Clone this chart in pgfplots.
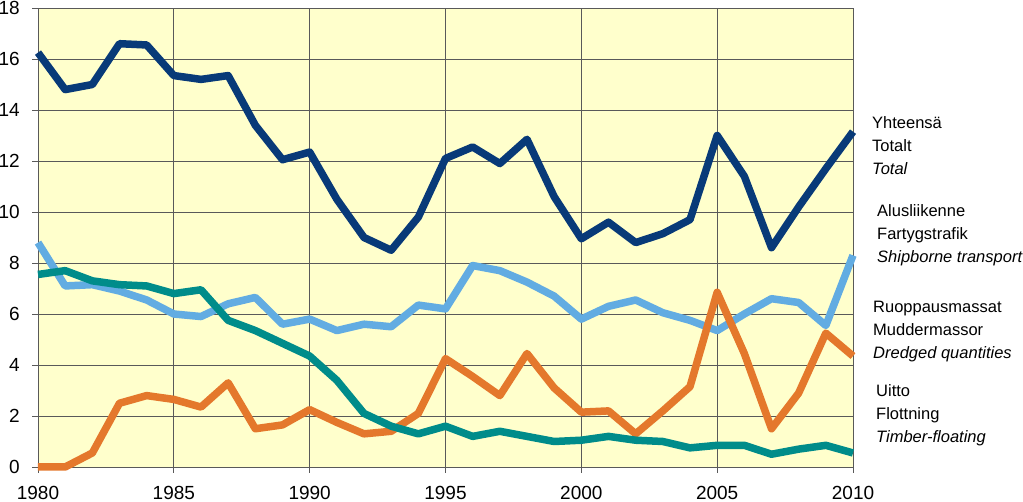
\documentclass[border=0pt]{standalone}
\usepackage{fontspec}
\setmainfont{Liberation Sans}
\usepackage{pgfplots}
\pgfplotsset{compat=1.18}

\definecolor{totalblue}{RGB}{8,58,120}
\definecolor{shipblue}{RGB}{98,172,226}
\definecolor{dredgeorange}{RGB}{228,120,44}
\definecolor{timberteal}{RGB}{0,140,138}
\definecolor{plotbg}{RGB}{255,255,204}

\begin{document}
\begin{tikzpicture}
  \useasboundingbox (-38pt,-35pt) rectangle (985pt,467pt);
  \begin{axis}[
    at={(0pt,0pt)}, anchor=south west,
    scale only axis,
    width=815pt, height=459pt,
    xmin=1980, xmax=2010, ymin=0, ymax=18,
    xtick={1980,1985,...,2010},
    ytick={0,2,...,18},
    grid=major,
    grid style={black!65, line width=0.8pt},
    axis line style={black!65, line width=0.8pt},
    tick style={black!65, line width=0.8pt},
    major tick length=6pt,
    tick align=outside,
    xtick pos=bottom, ytick pos=left,
    axis background/.style={fill=plotbg},
    /pgf/number format/assume math mode=true,
    /pgf/number format/1000 sep={},
    ticklabel style={font=\fontsize{19}{19}\selectfont, inner sep=0pt},
    xticklabel style={anchor=north, yshift=-13pt},
    yticklabel style={anchor=east, xshift=-12pt},
    every axis plot/.append style={line width=7.5pt, line join=round, no markers},
    clip=false,
  ]
  % Yhteensä / Total
  \addplot[totalblue] coordinates {
    (1980,16.25) (1981,14.8) (1982,15.0) (1983,16.6) (1984,16.55)
    (1985,15.35) (1986,15.2) (1987,15.35) (1988,13.4) (1989,12.05)
    (1990,12.35) (1991,10.5) (1992,9.0) (1993,8.5) (1994,9.8)
    (1995,12.1) (1996,12.55) (1997,11.9) (1998,12.85) (1999,10.6)
    (2000,8.95) (2001,9.6) (2002,8.8) (2003,9.15) (2004,9.7)
    (2005,13.0) (2006,11.4) (2007,8.6) (2008,10.2) (2009,11.7)
    (2010,13.15)};
  % Alusliikenne / Shipborne transport
  \addplot[shipblue] coordinates {
    (1980,8.8) (1981,7.1) (1982,7.15) (1983,6.9) (1984,6.55)
    (1985,6.0) (1986,5.9) (1987,6.4) (1988,6.65) (1989,5.6)
    (1990,5.8) (1991,5.35) (1992,5.6) (1993,5.5) (1994,6.35)
    (1995,6.2) (1996,7.9) (1997,7.7) (1998,7.25) (1999,6.7)
    (2000,5.8) (2001,6.3) (2002,6.55) (2003,6.05) (2004,5.75)
    (2005,5.35) (2006,6.0) (2007,6.6) (2008,6.45) (2009,5.55)
    (2010,8.3)};
  % Ruoppausmassat / Dredged quantities
  \addplot[dredgeorange] coordinates {
    (1980,0) (1981,0) (1982,0.55) (1983,2.5) (1984,2.8)
    (1985,2.65) (1986,2.35) (1987,3.3) (1988,1.5) (1989,1.65)
    (1990,2.25) (1991,1.75) (1992,1.3) (1993,1.4) (1994,2.1)
    (1995,4.25) (1996,3.55) (1997,2.8) (1998,4.45) (1999,3.1)
    (2000,2.15) (2001,2.2) (2002,1.3) (2003,2.2) (2004,3.15)
    (2005,6.85) (2006,4.45) (2007,1.5) (2008,2.9) (2009,5.25)
    (2010,4.35)};
  % Uitto / Timber-floating
  \addplot[timberteal] coordinates {
    (1980,7.55) (1981,7.7) (1982,7.3) (1983,7.15) (1984,7.1)
    (1985,6.8) (1986,6.95) (1987,5.75) (1988,5.35) (1989,4.85)
    (1990,4.35) (1991,3.4) (1992,2.1) (1993,1.6) (1994,1.3)
    (1995,1.6) (1996,1.2) (1997,1.4) (1998,1.2) (1999,1.0)
    (2000,1.05) (2001,1.2) (2002,1.05) (2003,1.0) (2004,0.75)
    (2005,0.85) (2006,0.85) (2007,0.5) (2008,0.7) (2009,0.85)
    (2010,0.55)};
  \end{axis}
  \begin{scope}[every node/.style={anchor=west, align=left, inner sep=0pt,
      font=\fontsize{16.5}{23}\selectfont}]
    \node at (834pt,321pt) {Yhteensä\\Totalt\\\textit{Total}};
    \node at (839pt,232pt) {Alusliikenne\\Fartygstrafik\\\textit{Shipborne transport}};
    \node at (835pt,135pt) {Ruoppausmassat\\Muddermassor\\\textit{Dredged quantities}};
    \node at (838pt,52pt) {Uitto\\Flottning\\\textit{Timber-floating}};
  \end{scope}
\end{tikzpicture}
\end{document}
